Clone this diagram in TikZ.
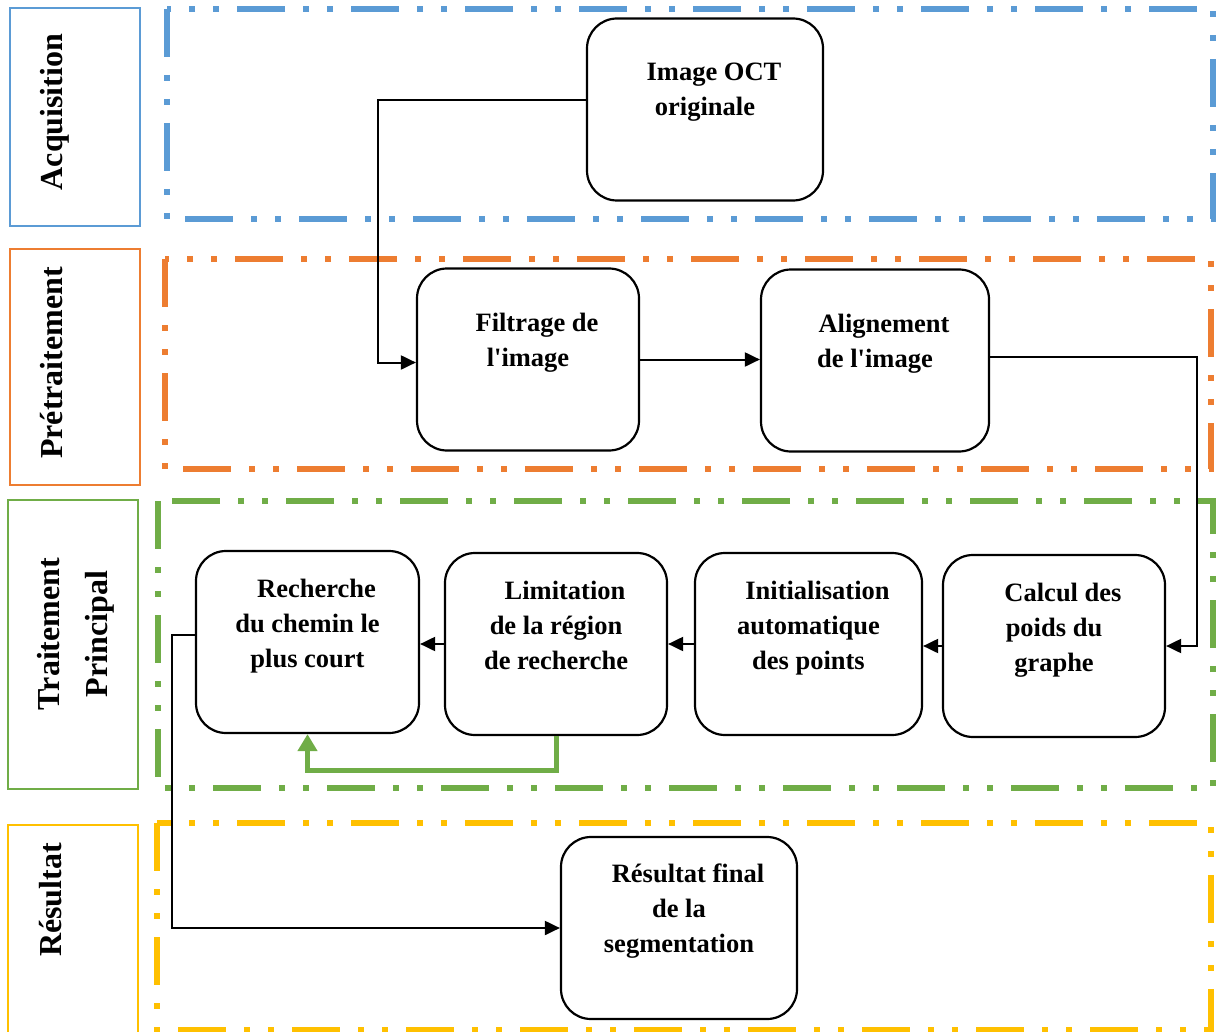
\documentclass[tikz,border=0pt]{standalone}
\usepackage{fontspec}
\setmainfont{Liberation Serif}
\usetikzlibrary{arrows.meta}

\definecolor{acqblue}{HTML}{5B9BD5}
\definecolor{preorange}{HTML}{ED7D31}
\definecolor{trtgreen}{HTML}{70AD47}
\definecolor{resyellow}{HTML}{FFC000}

% text of a step box: width, first baseline, lines
\newcommand{\boxtext}[3]{\parbox[c][182pt][t]{#1}{\centering\fontsize{26.5}{35}\selectfont\bfseries\hspace*{18pt}\rule{0pt}{#2}#3}}

\tikzset{
    procbox/.style = {draw, line width = 2.2pt, rounded corners = 30pt, inner sep = 0pt},
    sidebox/.style = {draw = #1, line width = 2.5pt, inner sep = 0pt, minimum width = 130pt},
    sidetext/.style = {rotate = 90, font = \fontsize{32}{48}\selectfont\bfseries, inner sep = 0pt, anchor = base, align = center},
    groupframe/.style = {draw = #1, line width = 6pt, dash pattern = on 48pt off 18pt on 6pt off 18pt on 6pt off 18pt},
    conn/.style = {line width = 2pt, -{Triangle[length = 15pt, width = 14pt]}},
    loopback/.style = {trtgreen, line width = 5pt, -{Triangle[length = 17pt, width = 19pt]}}
}

\begin{document}
\begin{tikzpicture}[x = 1pt, y = -1pt]
        \clip (0,0) rectangle (1217,1032);

        % stage frames
        \draw[groupframe = acqblue] (167,9) rectangle (1213,219);
        \draw[groupframe = preorange] (165,259) rectangle (1211,469);
        \draw[groupframe = trtgreen] (158,501) rectangle (1213,788);
        \draw[groupframe = resyellow] (157,823) rectangle (1211,1030);

        % stage names
        \node[sidebox = acqblue, minimum height = 218pt] (acqbox) at (75,117) {};
        \node[sidebox = preorange, minimum height = 236pt] (prebox) at (75,367) {};
        \node[sidebox = trtgreen, minimum height = 289pt] (trtbox) at (73,644.5) {};
        \node[sidebox = resyellow, minimum height = 220pt] (resbox) at (73,935) {};

        \node[sidetext] (acqlbl) at (62,112) {Acquisition};
        \node[sidetext] (prelbl) at (62,363) {Prétraitement};
        \node[sidetext] (trtlbl) at (107,634) {Traitement\\Principal};
        \node[sidetext] (reslbl) at (61,900) {Résultat};

        % steps
        \node[procbox] (oct) at (705,109.5) {\boxtext{236pt}{62pt}{Image OCT\\originale}};
        \node[procbox] (filt) at (528,359.5) {\boxtext{222pt}{63pt}{Filtrage de\\l\textquotesingle image}};
        \node[procbox] (align) at (875,360.5) {\boxtext{228pt}{63pt}{Alignement\\de l\textquotesingle image}};
        \node[procbox] (calc) at (1054,646) {\boxtext{222pt}{46pt}{Calcul des\\poids du\\graphe}};
        \node[procbox] (init) at (808.5,644) {\boxtext{227pt}{46pt}{Initialisation\\automatique\\des points}};
        \node[procbox] (lim) at (556,644) {\boxtext{222pt}{46pt}{Limitation\\de la région\\de recherche}};
        \node[procbox] (rech) at (307.5,642) {\boxtext{223pt}{46pt}{Recherche\\du chemin le\\plus court}};
        \node[procbox] (res) at (679,928) {\boxtext{236pt}{45pt}{Résultat final\\de la\\segmentation}};

        % connectors
        \draw[conn] ([yshift = 9pt]oct.west) -| ([xshift = -38pt, yshift = -3pt]filt.west) -- ([yshift = -3pt]filt.west);
        \draw[conn] (filt.east) -- (filt.east -| align.west);
        \draw[conn] ([yshift = 4pt]align.east) -| ([xshift = 31pt]calc.east) -- (calc.east);
        \draw[conn] (calc.west) -- (calc.west -| init.east);
        \draw[conn] (init.west) -- (init.west -| lim.east);
        \draw[conn] (lim.west) -- (lim.west -| rech.east);
        \draw[conn] ([yshift = 7pt]rech.west) -- ++(-23,0) |- (res.west);
        \draw[loopback] (lim.south) -- ++(0,34) -| (rech.south);
\end{tikzpicture}
\end{document}
